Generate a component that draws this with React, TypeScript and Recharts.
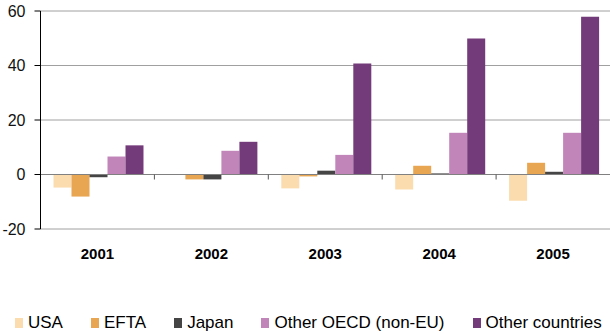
import { BarChart, Bar, XAxis, YAxis, CartesianGrid, ReferenceLine } from "recharts";

const years = ["2001", "2002", "2003", "2004", "2005"];
const usa = [-4.8, 0, -5.1, -5.5, -9.6];
const efta = [-8.1, -1.8, -0.7, 3.2, 4.3];
const japan = [-1.0, -1.8, 1.4, 0.4, 1.0];
const otherOecd = [6.6, 8.7, 7.2, 15.3, 15.3];
const otherCountries = [10.7, 12.0, 40.7, 49.9, 57.9];
const yTicks = [-20, 0, 20, 40, 60];

const series = [
  { key: "usa", name: "USA", color: "#fadcae", values: usa },
  { key: "efta", name: "EFTA", color: "#e8a552", values: efta },
  { key: "japan", name: "Japan", color: "#454545", values: japan },
  { key: "otherOecd", name: "Other OECD (non-EU)", color: "#c185b9", values: otherOecd },
  { key: "otherCountries", name: "Other countries", color: "#743b7a", values: otherCountries },
];

const data = years.map((year, i) => {
  const row: Record<string, string | number> = { year };
  series.forEach((s) => {
    row[s.key] = s.values[i];
  });
  return row;
});

const font = "'Liberation Sans', Arial, sans-serif";

// zero line with small ticks between the year groups
function ZeroLine(props: any) {
  const { x1, y1, x2 } = props;
  const step = (x2 - x1) / years.length;
  return (
    <g>
      <line x1={x1} y1={y1} x2={x2} y2={y1} stroke="#808080" strokeWidth={1} />
      {years.slice(1).map((y, i) => (
        <line
          key={y}
          x1={x1 + step * (i + 1)}
          x2={x1 + step * (i + 1)}
          y1={y1}
          y2={y1 + 5}
          stroke="#555"
          strokeWidth={1}
        />
      ))}
    </g>
  );
}

export default function App() {
  return (
    <div
      style={{
        position: "absolute",
        left: 0,
        top: 0,
        width: 610,
        height: 334,
        background: "#fff",
        fontFamily: font,
      }}
    >
      <BarChart
        width={610}
        height={270}
        data={data}
        margin={{ top: 11, right: 0, bottom: 11, left: 0.5 }}
        barCategoryGap={13}
        barGap={0}
      >
        <CartesianGrid vertical={false} stroke="#a0a0a0" />
        <XAxis
          dataKey="year"
          axisLine={false}
          tickLine={false}
          tickMargin={13}
          tick={{ fontSize: 15, fontWeight: 700, fill: "#000", fontFamily: font }}
        />
        <YAxis
          domain={[-20, 60]}
          ticks={yTicks}
          width={40}
          axisLine={{ stroke: "#000" }}
          tickLine={{ stroke: "#000" }}
          tickSize={6}
          tickMargin={9}
          tick={{ fontSize: 16, fill: "#111", fontFamily: font }}
        />
        {series.map((s) => (
          <Bar key={s.key} dataKey={s.key} fill={s.color} isAnimationActive={false} />
        ))}
        <ReferenceLine y={0} shape={ZeroLine} />
      </BarChart>
      <div
        style={{
          position: "absolute",
          left: 15,
          top: 313,
          display: "flex",
          gap: 28,
          fontSize: 17,
          lineHeight: "20px",
          color: "#000",
          whiteSpace: "nowrap",
        }}
      >
        {series.map((s) => (
          <span key={s.key}>
            <span
              style={{
                display: "inline-block",
                width: 8,
                height: 10,
                background: s.color,
                marginRight: 5,
                verticalAlign: "baseline",
              }}
            />
            {s.name}
          </span>
        ))}
      </div>
    </div>
  );
}
